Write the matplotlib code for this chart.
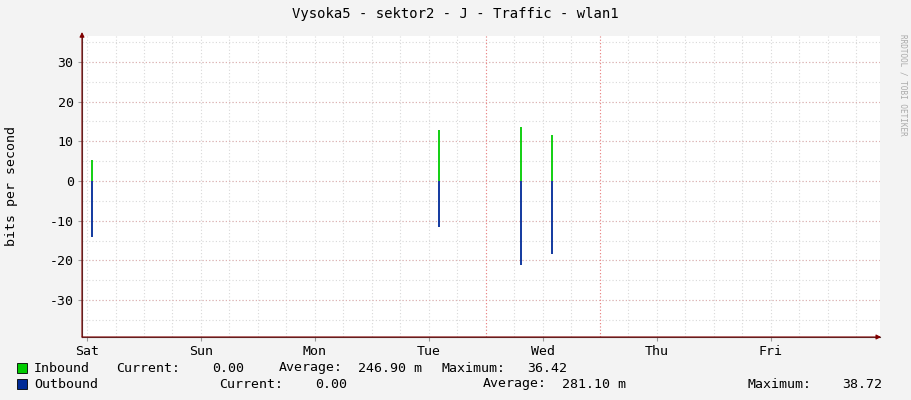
import matplotlib
matplotlib.use("Agg")
import matplotlib.pyplot as plt
import numpy as np

days = ["Sat", "Sun", "Mon", "Tue", "Wed", "Thu", "Fri"]
spike_t = [0.044, 3.09, 3.81, 4.08]       # days since Sat 00:00
inbound = [5.3, 12.8, 13.6, 11.6]
outbound = [-14.1, -11.6, -21.2, -18.4]
yticks = [-30, -20, -10, 0, 10, 20, 30]

W, H = 911, 400
fig = plt.figure(figsize=(W/100, H/100), dpi=100, facecolor="#F3F3F3")
L, R, T, B = 82, 880, 36, 337
ax = fig.add_axes([L/W, 1-B/H, (R-L)/W, (B-T)/H])
ax.set_facecolor("white")
x0 = (L-87)/114; x1 = (R-87)/114
ax.set_xlim(x0, x1)
ax.set_ylim(-39.3, 36.5)
mono = "DejaVu Sans Mono"

for x in np.arange(0, 7.01, 0.25):
    ax.axvline(x, color="#D8D8D8", lw=0.8, ls=(0, (1, 2)), zorder=1)
for y in np.arange(-35, 36, 5):
    ax.axhline(y, color="#D8D8D8", lw=0.8, ls=(0, (1, 2)), zorder=1)
for y in yticks:
    ax.axhline(y, color="#E0B0B0", lw=0.8, ls=(0, (1, 2)), zorder=1)
for x in [3.5, 4.5]:
    ax.axvline(x, color="#F08080", lw=0.8, ls=(0, (1, 2)), zorder=1)

ax.vlines(spike_t, 0, inbound, color="#00CC00", lw=1.3, zorder=3)
ax.vlines(spike_t, outbound, 0, color="#002A97", lw=1.3, zorder=3)

for s in ax.spines.values():
    s.set_visible(False)
ax.set_xticks(range(7))
ax.set_xticklabels(days, fontfamily=mono, fontsize=9.5)
ax.set_yticks(yticks)
ax.set_yticklabels([str(v) for v in yticks], fontfamily=mono, fontsize=9.5)
ax.tick_params(length=3, color="#999999", pad=3)
ax.annotate("", xy=(x1+0.01, -39.3), xytext=(x0, -39.3), annotation_clip=False,
            arrowprops=dict(arrowstyle="-|>", color="#800000", lw=0.8, mutation_scale=7, shrinkA=0, shrinkB=0))
ax.annotate("", xy=(x0, 37.5), xytext=(x0, -39.3), annotation_clip=False,
            arrowprops=dict(arrowstyle="-|>", color="#800000", lw=0.8, mutation_scale=7, shrinkA=0, shrinkB=0))
ax.plot([x0, x1], [-39.3, -39.3], color="#444444", lw=0.8, clip_on=False)
ax.plot([x0, x0], [-39.3, 36.5], color="#444444", lw=0.8, clip_on=False)

fig.text(12/W, 1-186/H, "bits per second", rotation=90, ha="center", va="center", fontfamily=mono, fontsize=9.5)
fig.text(455/W, 1-14/H, "Vysoka5 - sektor2 - J - Traffic - wlan1", ha="center", va="center", fontfamily=mono, fontsize=10)
fig.text(903/W, 1-85/H, "RRDTOOL / TOBI OETIKER", rotation=270, ha="center", va="center", fontfamily=mono, fontsize=5.5, color="#AAAAAA")

def legend(y, color, parts):
    fig.patches.append(plt.Rectangle((17/W, 1-(y+5)/H), 10/W, 10/H, transform=fig.transFigure, facecolor=color, edgecolor="black", lw=0.6))
    for xp, s in parts:
        fig.text(xp/W, 1-y/H, s, ha="left", va="center", fontfamily=mono, fontsize=9.5)

legend(368, "#00CC00", [(34, "Inbound"), (116, "Current:"), (212, "0.00"), (279, "Average:"), (358, "246.90 m"), (441, "Maximum:"), (527, "36.42")])
legend(384, "#002A97", [(34, "Outbound"), (219, "Current:"), (315, "0.00"), (483, "Average:"), (562, "281.10 m"), (748, "Maximum:"), (842, "38.72")])

fig.savefig("out.png", dpi=100, facecolor=fig.get_facecolor())
